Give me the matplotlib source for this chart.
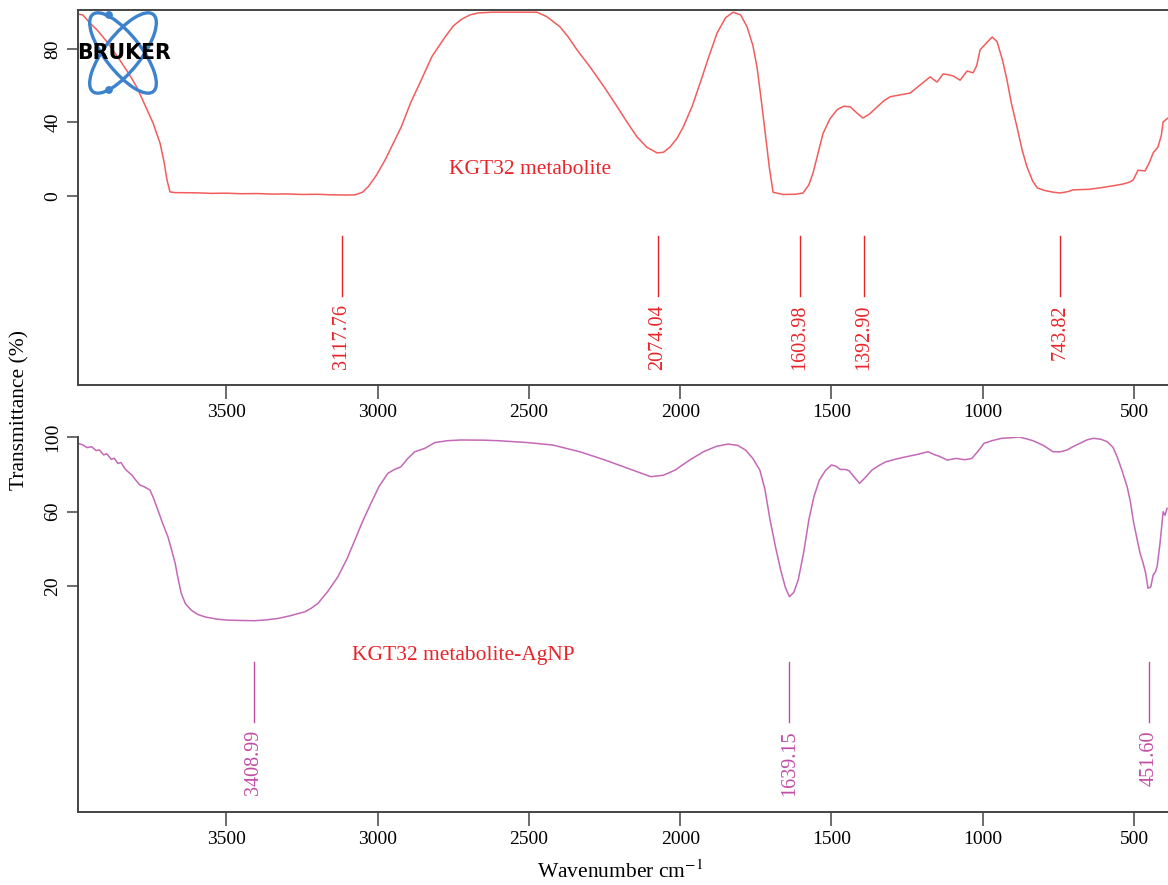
import matplotlib
matplotlib.use("Agg")
import matplotlib.pyplot as plt
from matplotlib.patches import Ellipse, Circle

# ---------------- data ----------------
top_wn = [3990, 3974, 3950, 3925, 3895, 3852, 3820, 3795, 3762, 3742, 3719, 3705, 3696, 3686,
          3669, 3600, 3550, 3500, 3450, 3400, 3350, 3300, 3250, 3200, 3150, 3100, 3074,
          3050, 3031, 3005, 2975, 2950, 2922, 2890, 2856, 2820, 2777, 2750, 2724, 2695,
          2668, 2620, 2560, 2500, 2473, 2440, 2397, 2370, 2341, 2297, 2250, 2208, 2175,
          2142, 2110, 2076, 2055, 2033, 2010, 1990, 1960, 1934, 1905, 1878, 1850, 1825,
          1800, 1779, 1760, 1746, 1732, 1719, 1705, 1693, 1660, 1620, 1594, 1575, 1561,
          1545, 1528, 1505, 1481, 1460, 1438, 1415, 1396, 1375, 1349, 1325, 1306, 1273,
          1240, 1207, 1174, 1160, 1151, 1131, 1115, 1098, 1075, 1052, 1032, 1020, 1009,
          985, 969, 953, 935, 920, 905, 887, 870, 854, 835, 820, 800, 788, 765, 745, 720,
          702, 650, 612, 570, 536, 515, 503, 487, 475, 464, 450, 437, 421, 410, 404, 388]
top_tr = [99, 98.5, 94, 90, 84, 74, 66, 59, 47, 39.7, 28.8, 18, 8.7, 2.2,
          1.8, 1.7, 1.4, 1.5, 1.2, 1.3, 1.0, 1.1, 0.8, 0.9, 0.6, 0.5, 0.6,
          2.0, 5, 11, 19.6, 28, 37.5, 51, 63, 76, 86.5, 92.5, 96, 98.5,
          99.6, 100, 100, 100, 100, 97.5, 92, 86.5, 79.5, 70, 59, 48.5, 40,
          32, 26.5, 23.4, 23.8, 26.7, 31.5, 37.5, 49, 61.5, 76, 88.7, 97, 100,
          98.5, 92, 82, 70, 52, 34, 15, 2, 0.8, 0.9, 1.6, 6, 12.5,
          23, 34, 42, 47, 48.8, 48.5, 45, 42.4, 44.5, 48.5, 52, 54, 55,
          56, 60.4, 64.8, 63, 62, 66.4, 66, 65.3, 63, 68, 67, 71, 79.5,
          83.8, 86.5, 84, 74, 63, 50, 37.5, 25, 15.8, 8, 4.4, 3.2, 2.7, 2.0, 1.6, 2.3,
          3.3, 3.6, 4.4, 5.5, 6.5, 7.5, 8.7, 14, 13.8, 13.6, 18, 23.4, 26.7, 33, 40.3, 42.4]

bot_wn = [3990, 3975, 3960, 3945, 3930, 3920, 3905, 3895, 3880, 3870, 3858, 3848, 3835, 3825,
          3812, 3800, 3785, 3770, 3752, 3740, 3726, 3710, 3693, 3680, 3669, 3660, 3649,
          3635, 3616, 3595, 3570, 3530, 3494, 3450, 3405, 3370, 3329, 3290, 3240, 3220,
          3197, 3165, 3131, 3100, 3075, 3050, 3022, 2995, 2966, 2945, 2923, 2900, 2877,
          2844, 2811, 2770, 2725, 2650, 2600, 2504, 2421, 2330, 2248, 2170, 2097, 2055,
          2016, 1970, 1923, 1880, 1842, 1810, 1784, 1760, 1737, 1720, 1703, 1685, 1668,
          1652, 1639, 1625, 1610, 1592, 1575, 1558, 1540, 1520, 1500, 1485, 1471, 1455,
          1442, 1425, 1407, 1390, 1366, 1340, 1320, 1290, 1262, 1220, 1181, 1160, 1146,
          1117, 1088, 1060, 1036, 1015, 996, 970, 938, 905, 880, 855, 834, 800, 768,
          745, 722, 700, 679, 655, 635, 610, 589, 570, 556, 540, 523, 512, 503, 490, 480,
          470, 462, 454, 445, 437, 430, 424, 415, 407, 404, 398, 391]
bot_tr = [96.6, 95.8, 94.3, 94.8, 92.7, 93.1, 90.4, 91.0, 88.0, 88.6, 85.8, 86.3, 83.0, 81.4,
          79.6, 77.0, 74.2, 73.2, 71.5, 67.0, 60.8, 53.5, 46.5, 39.0, 32.3, 24.5, 16.2,
          10.5, 7.1, 4.8, 3.4, 2.2, 1.7, 1.5, 1.4, 1.8, 2.6, 4.0, 6.2, 8.0,
          10.7, 17.0, 25.0, 35.0, 44.7, 54.5, 64.4, 73.5, 80.5, 82.5, 84.0, 88.5, 92.1,
          93.9, 97.0, 98.0, 98.4, 98.3, 98.0, 97.0, 95.7, 92.0, 87.6, 83.0, 78.7, 79.5,
          82.3, 87.5, 92.1, 95.0, 96.2, 95.5, 93.0, 88.5, 82.3, 72.0, 55.4, 41.0, 28.6,
          19.0, 14.3, 16.5, 23.2, 38.0, 55.4, 68.0, 76.9, 82.0, 85.0, 84.3, 82.6, 82.6,
          81.9, 78.5, 75.1, 78.0, 82.3, 85.0, 86.7, 88.0, 89.1, 90.5, 92.1, 90.5, 89.8,
          87.6, 88.5, 87.8, 88.5, 92.5, 96.6, 98.0, 99.3, 99.6, 100, 99.0, 98.0, 95.5, 92.1,
          92.0, 93.0, 95.0, 96.6, 98.5, 99.3, 98.8, 97.5, 94.5, 89.4, 82.0, 73.3, 65.0, 55.4, 45.0, 37.5,
          32.2, 27.0, 18.8, 19.5, 25.9, 27.5, 30.4, 42.0, 55.4, 59.9, 58.0, 61.7]

top_peaks = [3117.76, 2074.04, 1603.98, 1392.90, 743.82]
top_peak_labels = ["3117.76", "2074.04", "1603.98", "1392.90", "743.82"]
bot_peaks = [3408.99, 1639.15, 451.60]
bot_peak_labels = ["3408.99", "1639.15", "451.60"]

x_ticks = [3500, 3000, 2500, 2000, 1500, 1000, 500]
top_yticks = [0, 40, 80]
bot_yticks = [20, 60, 100]

top_name = "KGT32 metabolite"
bot_name = "KGT32 metabolite-AgNP"

# ---------------- style ----------------
plt.rcParams['font.family'] = ['Liberation Serif', 'DejaVu Serif']
plt.rcParams['mathtext.fontset'] = 'stix'

W, H = 1168, 885
fig = plt.figure(figsize=(W / 100, H / 100), dpi=100)

top_line_c = '#F25C5C'
top_lab_c = '#E8242A'
bot_line_c = '#C468B8'
bot_lab_c = '#C04CA6'
spine_c = '#444444'


def px_axes(left, top, right, bottom):
    return [left / W, 1 - bottom / H, (right - left) / W, (bottom - top) / H]


def style_axes(ax, yticks, show_top):
    ax.spines['right'].set_visible(False)
    ax.spines['top'].set_visible(show_top)
    for s in ['left', 'bottom', 'top']:
        ax.spines[s].set_color(spine_c)
        ax.spines[s].set_linewidth(1.4)
    ax.set_xticks(x_ticks)
    ax.set_xticklabels([str(t) for t in x_ticks], fontsize=14)
    ax.set_yticks(yticks)
    ax.set_yticklabels([str(t) for t in yticks], fontsize=14, rotation=90, va='center')
    ax.tick_params(axis='x', length=10, width=1.1, color=spine_c, pad=4)
    ax.tick_params(axis='y', length=8, width=1.1, color=spine_c, pad=4)


# Top panel
ax1 = fig.add_axes(px_axes(78, 10, 1168, 385))
ax1.plot(top_wn, top_tr, color=top_line_c, lw=1.1)
ax1.set_xlim(3990, 388)
ax1.set_ylim(-102.9, 101.2)
style_axes(ax1, top_yticks, True)
for p, lab in zip(top_peaks, top_peak_labels):
    ax1.plot([p, p], [-21.8, -54.4], color=top_lab_c, lw=1.0)
    ax1.text(p, -59.0, lab, rotation=90, ha='center', va='top', color=top_lab_c, fontsize=14.5)
ax1.text(2764, 12, top_name, color=top_lab_c, fontsize=15.5, ha='left', va='baseline')

# Bottom panel
ax2 = fig.add_axes(px_axes(78, 437, 1168, 812))
ax2.plot(bot_wn, bot_tr, color=bot_line_c, lw=1.1)
ax2.set_xlim(3990, 388)
ax2.set_ylim(-101.3, 100)
style_axes(ax2, bot_yticks, False)
for p, lab in zip(bot_peaks, bot_peak_labels):
    ax2.plot([p, p], [-20.8, -53.0], color=bot_lab_c, lw=1.0)
    ax2.text(p, -57.3, lab, rotation=90, ha='center', va='top', color=bot_lab_c, fontsize=14.5)
ax2.text(3084, -19.7, bot_name, color=top_lab_c, fontsize=15.5, ha='left', va='baseline')

fig.text(20 / W, 1 - 410 / H, "Transmittance (%)", rotation=90, ha='center', va='center', fontsize=15.5)
fig.text(620 / W, 1 - 872 / H, "Wavenumber cm$^{-1}$", ha='center', va='center', fontsize=15.5)

# Bruker logo (decoration)
lx0, ly0, lw_, lh_ = 76, 6, 100, 96
lax = fig.add_axes(px_axes(lx0, ly0, lx0 + lw_, ly0 + lh_))
lax.set_xlim(0, lw_)
lax.set_ylim(lh_, 0)
lax.axis('off')
cx, cy = 123 - lx0, 53 - ly0
for ang in (52, -52):
    lax.add_patch(Ellipse((cx, cy), 98, 36, angle=ang, fill=False, ec='#3C82CC', lw=2.4))
lax.add_patch(Circle((109 - lx0, 15 - ly0), 3.2, color='#3C82CC'))
lax.add_patch(Circle((109 - lx0, 90 - ly0), 3.2, color='#3C82CC'))
lax.text(77 - lx0, 53 - ly0, "BRUKER", fontsize=14.8, fontweight='bold', family='DejaVu Sans',
         ha='left', va='center', color='black')

fig.savefig("out.png", dpi=100)
